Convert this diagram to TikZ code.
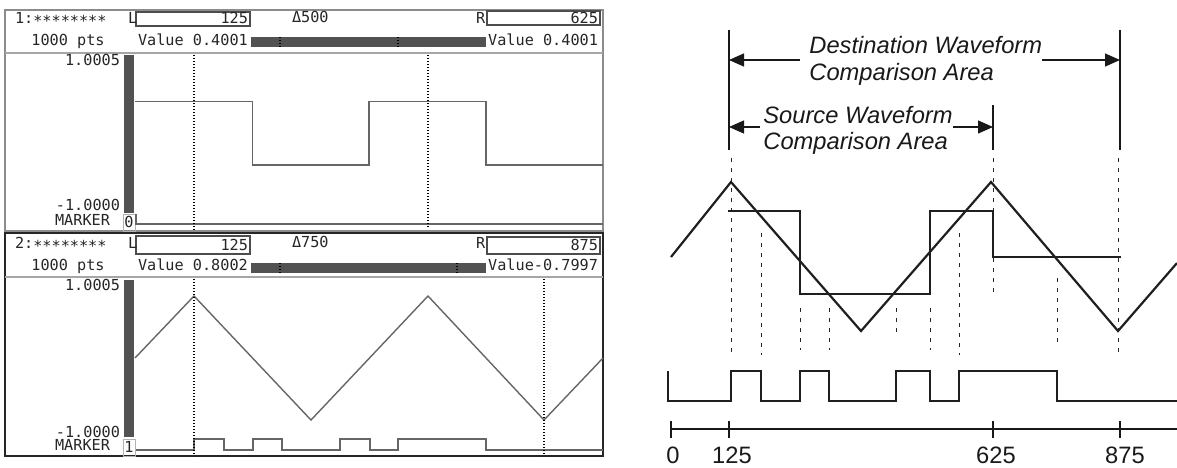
\documentclass[tikz,border=0pt]{standalone}
\usepackage{fontspec}
\setmainfont{Liberation Sans}
\newfontfamily\lcdfont{DejaVu Sans Mono}
\usetikzlibrary{arrows.meta}
\begin{document}
\begin{tikzpicture}[x=0.5pt,y=-0.5pt,
  lcd/.style={font=\lcdfont\fontsize{7.6}{8}\selectfont, text=black!85, inner sep=0pt, outer sep=0pt},
  lbl/.style={font=\itshape\fontsize{11.85}{13.5}\selectfont, text=black!90, inner sep=0pt, anchor=base west},
  axislbl/.style={font=\fontsize{11.85}{13.5}\selectfont, text=black!90, inner sep=0pt, anchor=base},
  wave/.style={draw=black!88, line width=1.1pt, line join=miter},
  panelwave/.style={draw=black!60, line width=0.7pt},
  cursor/.style={draw=black, line width=0.6pt, dash pattern=on 0.6pt off 0.9pt},
  guide/.style={draw=black!85, line width=0.5pt, dash pattern=on 2pt off 3pt},
  dimline/.style={draw=black!90, line width=0.6pt},
  dimarrow/.style={draw=black!90, line width=0.6pt, -{Triangle[length=7.5pt,width=6.5pt]}},
  darkbar/.style={fill=black!68},
  hdrbox/.style={draw=black!70, line width=0.6pt},
]
\useasboundingbox (0,0) rectangle (1177,467);

% ================= LEFT: panel 1 =================
\draw[black!45, line width=0.6pt] (5,10) rectangle (603,231);
\draw[black!35, line width=0.6pt] (5,53) -- (603,53);
\draw[hdrbox] (136,12) rectangle (250,26);
\draw[hdrbox] (487,11) rectangle (600,25);
\fill[darkbar] (251,37) rectangle (486,47);
\draw[cursor] (280,37) -- (280,47);
\draw[cursor] (398,37) -- (398,47);
\fill[darkbar] (124,55) rectangle (134,213);
\draw[black!30, line width=0.5pt] (123,214) rectangle (135,231);

\node[lcd, anchor=base west] (p1name) at (15,23) {1:∗∗∗∗∗∗∗∗};
\node[lcd, anchor=base west] (p1L) at (128,23) {L};
\node[lcd, anchor=base east] (p1Lv) at (248,23) {125};
\node[lcd, anchor=base west] (p1d) at (292,22) {Δ500};
\node[lcd, anchor=base west] (p1R) at (476,23) {R};
\node[lcd, anchor=base east] (p1Rv) at (598,23) {625};
\node[lcd, anchor=base] (p1pts) at (68,45) {1000 pts};
\node[lcd, anchor=base west] (p1vl) at (138,45) {Value 0.4001};
\node[lcd, anchor=base east] (p1vr) at (598,45) {Value 0.4001};
\node[lcd, anchor=base east] (p1max) at (120,65) {1.0005};
\node[lcd, anchor=base east] (p1min) at (120,210) {-1.0000};
\node[lcd, anchor=base east] (p1mk) at (110,225) {MARKER};
\node[lcd, anchor=base] (p1mkn) at (129,227) {0};

\draw[panelwave] (135,101.7) -- (252.7,101.7) -- (252.7,165) -- (369,165) -- (369,101.7)
  -- (486,101.7) -- (486,165) -- (603,165);
\draw[panelwave] (136,214) -- (136,224) -- (603,224);
\draw[cursor] (194,55) -- (194,232);
\draw[cursor] (428,55) -- (428,228);

% ================= LEFT: panel 2 =================
\draw[black!85, line width=0.9pt] (5,233) rectangle (603,456);
\draw[black!35, line width=0.6pt] (5,277) -- (603,277);
\draw[hdrbox] (136,236) rectangle (250,254);
\draw[hdrbox] (487,237) rectangle (600,254);
\fill[darkbar] (251,263) rectangle (486,273);
\draw[cursor] (280,263) -- (280,273);
\draw[cursor] (457,263) -- (457,273);
\fill[darkbar] (124,280) rectangle (134,437);
\draw[black!30, line width=0.5pt] (123,439) rectangle (135,456);

\node[lcd, anchor=base west] (p2name) at (15,248) {2:∗∗∗∗∗∗∗∗};
\node[lcd, anchor=base west] (p2L) at (128,248) {L};
\node[lcd, anchor=base east] (p2Lv) at (248,250) {125};
\node[lcd, anchor=base west] (p2d) at (292,247) {Δ750};
\node[lcd, anchor=base west] (p2R) at (476,248) {R};
\node[lcd, anchor=base east] (p2Rv) at (598,250) {875};
\node[lcd, anchor=base] (p2pts) at (68,270) {1000 pts};
\node[lcd, anchor=base west] (p2vl) at (138,270) {Value 0.8002};
\node[lcd, anchor=base east] (p2vr) at (598,270) {Value-0.7997};
\node[lcd, anchor=base east] (p2max) at (120,290) {1.0005};
\node[lcd, anchor=base east] (p2min) at (120,437) {-1.0000};
\node[lcd, anchor=base east] (p2mk) at (110,450) {MARKER};
\node[lcd, anchor=base] (p2mkn) at (129,452) {1};

\draw[panelwave] (135,358) -- (194,296) -- (311,420) -- (428,296) -- (544,420) -- (603,358);
\draw[panelwave] (136,450) -- (194,450) -- (194,439) -- (224,439) -- (224,450) -- (253,450)
  -- (253,439) -- (282,439) -- (282,450) -- (340,450) -- (340,439) -- (370,439) -- (370,450)
  -- (398,450) -- (398,439) -- (486,439) -- (486,450) -- (603,450);
\draw[cursor] (194,279) -- (194,456);
\draw[cursor] (544,279) -- (544,456);

% ================= RIGHT diagram =================
\coordinate (aL) at (729,30);
\coordinate (aLb) at (729,150);
\coordinate (aR) at (1120,30);
\coordinate (aRb) at (1120,150);
\coordinate (aM) at (993,105);
\coordinate (aMb) at (993,150);
\draw[dimline] (aL) -- (aLb);
\draw[dimline] (aR) -- (aRb);
\draw[dimline] (aM) -- (aMb);

\node[lbl] (dest1) at (809,53) {Destination Waveform};
\node[lbl] (dest2) at (809,80) {Comparison Area};
\node[lbl] (src1) at (763,123) {Source Waveform};
\node[lbl] (src2) at (763,149) {Comparison Area};

\coordinate (dA) at (800,60);
\coordinate (dB) at (729,60);
\coordinate (dC) at (1042,60);
\coordinate (dD) at (1120,60);
\coordinate (sA) at (760,127);
\coordinate (sB) at (729,127);
\coordinate (sC) at (953,127);
\coordinate (sD) at (993,127);
\draw[dimarrow] (dA) -- (dB);
\draw[dimarrow] (dC) -- (dD);
\draw[dimarrow] (sA) -- (sB);
\draw[dimarrow] (sC) -- (sD);

% dashed guides
\draw[guide] (731,158) -- (731,352);
\draw[guide] (761,233) -- (761,355);
\draw[guide] (800,308) -- (800,350);
\draw[guide] (829,308) -- (829,350);
\draw[guide] (896,308) -- (896,337);
\draw[guide] (930,308) -- (930,350);
\draw[guide] (959,233) -- (959,355);
\draw[guide] (993,158) -- (993,292);
\draw[guide] (1057,278) -- (1057,342);
\draw[guide] (1118,158) -- (1118,355);

% waves
\draw[wave] (671,257) -- (731,182) -- (861,331) -- (991,182) -- (1118,331) -- (1177,263);
\draw[wave] (728,211) -- (800,211) -- (800,294) -- (930,294) -- (930,211) -- (993,211)
  -- (993,257) -- (1121,257);
\draw[wave] (668,371) -- (668,401) -- (731,401) -- (731,371) -- (761,371) -- (761,401)
  -- (800,401) -- (800,371) -- (829,371) -- (829,401) -- (896,401) -- (896,371)
  -- (930,371) -- (930,401) -- (959,401) -- (959,371) -- (1057,371) -- (1057,401) -- (1177,401);

% axis
\coordinate (ax0) at (671,429);
\coordinate (ax1) at (1177,429);
\draw[dimline] (ax0) -- (ax1);
\foreach \t in {671,729,993,1120} \draw[dimline] (\t,421) -- (\t,438);
\node[axislbl] (t0) at (673,463) {0};
\node[axislbl] (t125) at (732,463) {125};
\node[axislbl] (t625) at (996,463) {625};
\node[axislbl] (t875) at (1125,463) {875};
\end{tikzpicture}
\end{document}
